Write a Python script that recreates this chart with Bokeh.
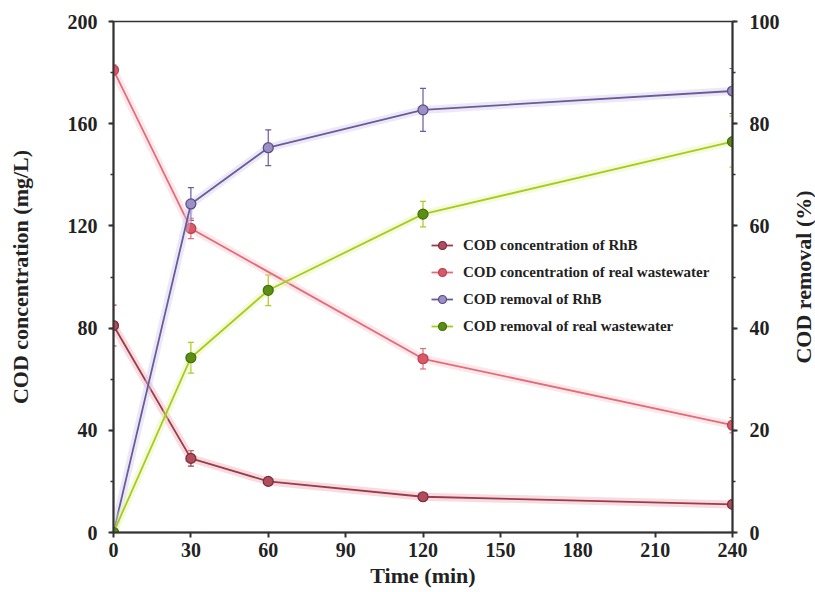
import math
from bokeh.plotting import figure
from bokeh.layouts import row
from bokeh.models import (Range1d, LinearAxis, Legend, LegendItem, FixedTicker,
                          Whisker, ColumnDataSource, TeeHead, Label)
from bokeh.embed import file_html
from bokeh.resources import INLINE

# ---------------- data ----------------
time_rhb_conc = [0, 30, 60, 120, 240]
rhb_conc = [81, 29, 20, 14, 11]
rhb_conc_err = [8, 3, 1.5, 1, 1]

time_ww_conc = [0, 30, 120, 240]
ww_conc = [181, 119, 68, 42]
ww_conc_err = [2, 4, 4, 3]

time_removal = [0, 30, 60, 120, 240]
rhb_removal = [0, 64.3, 75.3, 82.7, 86.4]
rhb_removal_err = [0, 3.2, 3.5, 4.2, 4.4]
ww_removal = [0, 34.2, 47.4, 62.3, 76.5]
ww_removal_err = [0, 3, 3, 2.5, 5]

x_ticks = [0, 30, 60, 90, 120, 150, 180, 210, 240]
left_ticks = [0, 40, 80, 120, 160, 200]
right_ticks = [0, 20, 40, 60, 80, 100]

labels = ["COD concentration of RhB",
          "COD concentration of real wastewater",
          "COD removal of RhB",
          "COD removal of real wastewater"]
right_title = "COD removal (%)"

FONT = "Liberation Serif"

p = figure(width=790, height=592, output_backend="svg", toolbar_location=None,
           x_range=Range1d(0, 240), y_range=Range1d(0, 200),
           min_border_left=113, min_border_right=58, min_border_top=21,
           min_border_bottom=60)
p.extra_y_ranges = {"right": Range1d(0, 100)}
p.grid.visible = False
p.outline_line_color = "#333333"
p.outline_line_width = 1.5
p.background_fill_color = "white"
p.border_fill_color = "white"

def style_axis(ax):
    ax.axis_line_color = "#333333"
    ax.axis_line_width = 2
    ax.major_tick_line_color = "#333333"
    ax.major_tick_line_width = 2
    ax.minor_tick_line_color = "#333333"
    ax.minor_tick_line_width = 1.5
    ax.major_tick_out = 5
    ax.major_tick_in = 0
    ax.minor_tick_out = 3
    ax.minor_tick_in = 0
    ax.major_label_text_font = FONT
    ax.major_label_text_font_style = "bold"
    ax.major_label_text_font_size = "20px"
    ax.major_label_text_color = "#222222"
    ax.axis_label_text_font = FONT
    ax.axis_label_text_font_style = "bold"
    ax.axis_label_text_font_size = "22px"
    ax.axis_label_text_color = "#222222"

xa = p.xaxis[0]
xa.ticker = FixedTicker(ticks=x_ticks)
xa.axis_label = "Time (min)"
style_axis(xa)
xa.major_label_standoff = 5
xa.axis_label_standoff = 3

ya = p.yaxis[0]
ya.ticker = FixedTicker(ticks=left_ticks, minor_ticks=list(range(0, 201, 20)))
ya.axis_label = "COD concentration (mg/L)"
style_axis(ya)
ya.major_label_standoff = 11
ya.axis_label_standoff = 32

ra = LinearAxis(y_range_name="right")
ra.ticker = FixedTicker(ticks=right_ticks, minor_ticks=list(range(0, 101, 10)))
style_axis(ra)
ra.major_label_standoff = 12
p.add_layout(ra, "right")

series = [
    (time_rhb_conc, rhb_conc, rhb_conc_err, "default",
     "#9b3b4b", "#b04d5c", "#7a2a38", "#eaa6ae"),
    (time_ww_conc, ww_conc, ww_conc_err, "default",
     "#e36c79", "#d85a69", "#b8404f", "#f8c4ca"),
    (time_removal, rhb_removal, rhb_removal_err, "right",
     "#6a5c9c", "#9a90c4", "#5a4a8a", "#cfc8ec"),
    (time_removal, ww_removal, ww_removal_err, "right",
     "#a6cc1e", "#5b8e12", "#44700a", "#e4f3a6"),
]

items = []
for (xs, ys, es, rng, lc, fc, oc, gc), lab in zip(series, labels):
    src = ColumnDataSource(dict(x=xs, y=ys,
                                upper=[a + b for a, b in zip(ys, es)],
                                lower=[a - b for a, b in zip(ys, es)]))
    p.line("x", "y", source=src, y_range_name=rng, line_color=gc,
           line_width=8, line_alpha=0.4)
    w = Whisker(source=src, base="x", upper="upper", lower="lower",
                dimension="height", y_range_name=rng,
                line_color=lc, line_width=1.2,
                upper_head=TeeHead(size=6, line_color=lc, line_width=1.2),
                lower_head=TeeHead(size=6, line_color=lc, line_width=1.2))
    p.add_layout(w)
    ln = p.line("x", "y", source=src, y_range_name=rng, line_color=lc,
                line_width=1.8)
    sc = p.scatter("x", "y", source=src, y_range_name=rng, size=10,
                   fill_color=fc, line_color=oc, line_width=1.2)
    items.append(LegendItem(label=lab, renderers=[ln, sc]))

leg = Legend(items=items, location=(318, 196), orientation="vertical",
             border_line_color=None, background_fill_alpha=0,
             label_text_font=FONT, label_text_font_style="bold",
             label_text_font_size="15px", label_text_color="#222222",
             glyph_width=22, glyph_height=20, label_height=20,
             label_standoff=10, spacing=7, padding=0, margin=0)
p.add_layout(leg, "center")

# narrow side figure holding the right-axis title (reads bottom-to-top)
q = figure(width=25, height=592, output_backend="svg", toolbar_location=None,
           x_range=Range1d(0, 1), y_range=Range1d(0, 1),
           min_border_left=0, min_border_right=0, min_border_top=21,
           min_border_bottom=60)
q.axis.visible = False
q.grid.visible = False
q.outline_line_color = None
q.background_fill_color = "white"
q.border_fill_color = "white"
q.add_layout(Label(x=0.5, y=0.5, text=right_title, angle=math.pi / 2,
                   text_align="center", text_baseline="middle",
                   text_font=FONT, text_font_style="bold",
                   text_font_size="22px", text_color="#222222"))

layout = row(p, q, spacing=0)
open("out.html", "w").write(file_html(layout, INLINE))
